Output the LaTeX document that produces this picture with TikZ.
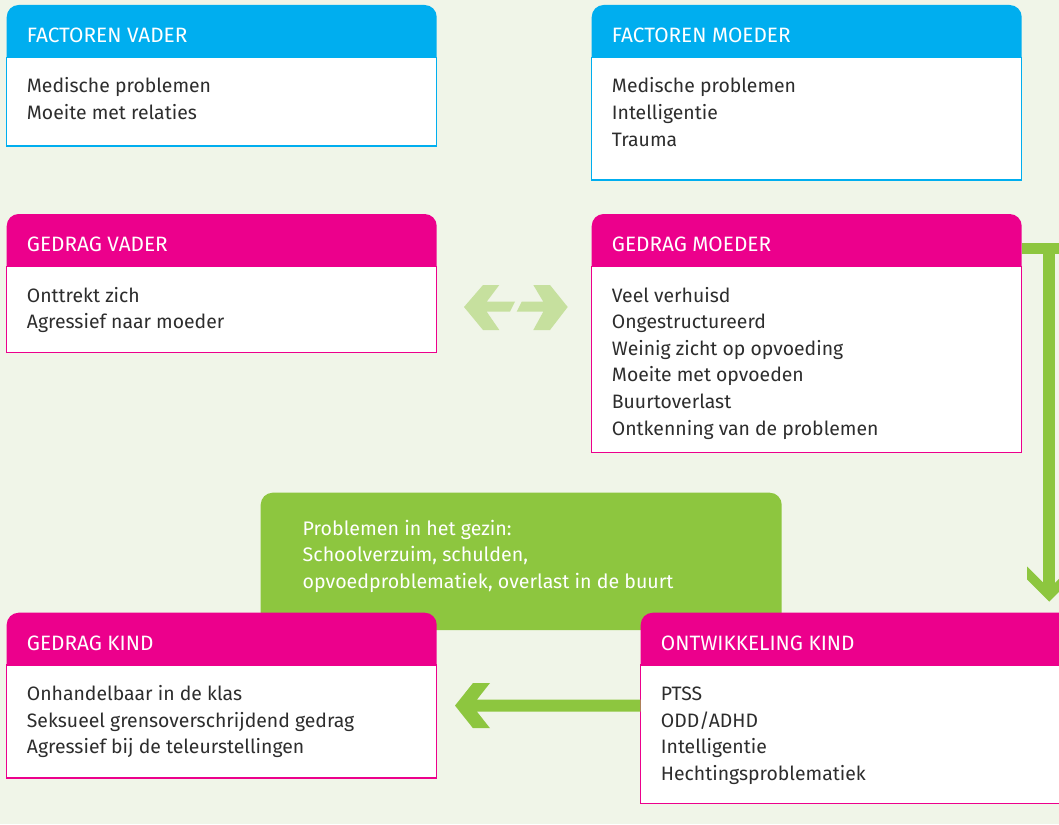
\documentclass[tikz,border=0pt]{standalone}
\usepackage{fontspec}
\setmainfont{Fira Sans}
\definecolor{bg}{RGB}{240,245,232}
\definecolor{cblue}{RGB}{0,174,239}
\definecolor{cmag}{RGB}{236,0,140}
\definecolor{cgreen}{RGB}{141,198,63}
\definecolor{clight}{RGB}{198,224,158}
\definecolor{ctext}{RGB}{45,45,45}
\newcommand\infobox[8]{%
  \pgfmathsetmacro\bh{#6-#4-52.3}%
  \node[hdrshape, fill=#2, minimum width=#5pt, anchor=north west] (#1H) at (#3,#4) {};
  \node[bodyshape, draw=#2, minimum width=#5pt, minimum height=\bh pt, anchor=north west] (#1B) at (#3,#4+52.3) {};
  \node[hdrtext, anchor=base west] (#1T) at (#3+20,#4+37.8) {#7};
  \foreach \bodyline [count=\i] in {#8}
    \node[bodytext, anchor=base west] (#1L\i) at (#3+20,#4+88+\i*26.6-26.6) {\bodyline};
}
\begin{document}
\begin{tikzpicture}[x=1pt,y=-1pt,
  hdrshape/.style={draw=none, rounded corners=12pt, inner sep=0pt, outer sep=0pt, minimum height=64pt},
  bodyshape/.style={fill=white, line width=1.2pt, inner sep=0pt, outer sep=0pt},
  hdrtext/.style={text=white, inner sep=0pt, font=\fontsize{20.8}{24}\selectfont},
  bodytext/.style={text=ctext, inner sep=0pt, font=\fontsize{19.4}{23}\selectfont},
  greentext/.style={text=white, inner sep=0pt, font=\fontsize{19.6}{23}\selectfont},
  arrowfill/.style={fill=cgreen, draw=none},
  lightfill/.style={fill=clight, draw=none}]
\fill[bg] (0,0) rectangle (1059,824);
\useasboundingbox (0,0) rectangle (1059,824);
\clip (0,0) rectangle (1059,824);

% green family problems box
\node[fill=cgreen, rounded corners=12pt, inner sep=0pt, outer sep=0pt, minimum width=521pt, minimum height=137.3pt, anchor=north west] (gz) at (260.7,492.7) {};
\foreach \gl [count=\i] in {Problemen in het gezin:, {Schoolverzuim, schulden,}, {opvoedproblematiek, overlast in de buurt}}
  \node[greentext, anchor=base west] (gzL\i) at (302.5,535+\i*26.8-26.8) {\gl};

\infobox{fv}{cblue}{6.7}{5}{430}{146}{FACTOREN VADER}{Medische problemen, Moeite met relaties}
\infobox{fm}{cblue}{591.7}{5}{430}{180}{FACTOREN MOEDER}{Medische problemen, Intelligentie, Trauma}
\infobox{gv}{cmag}{6.7}{214}{430}{352.7}{GEDRAG VADER}{Onttrekt zich, Agressief naar moeder}
\infobox{gm}{cmag}{591.7}{214}{430}{452.3}{GEDRAG MOEDER}{Veel verhuisd, Ongestructureerd, Weinig zicht op opvoeding, Moeite met opvoeden, Buurtoverlast, Ontkenning van de problemen}
\infobox{gk}{cmag}{6.7}{612.7}{430}{778}{GEDRAG KIND}{Onhandelbaar in de klas, Seksueel grensoverschrijdend gedrag, Agressief bij de teleurstellingen}
\infobox{ok}{cmag}{640.7}{612.7}{440}{803.3}{ONTWIKKELING KIND}{PTSS, ODD/ADHD, Intelligentie, Hechtingsproblematiek}

% double arrow between gedrag vader and gedrag moeder
\coordinate (dl) at (464,307);
\coordinate (dr) at (567.7,307);
\fill[lightfill] (dl) -- (483,285) -- (499.3,285) -- (486.7,301.7) -- (515,301.7) -- (510,311.7) -- (486.7,311.7) -- (499.3,330) -- (483,330) -- cycle;
\fill[lightfill] (dr) -- (550,330) -- (533.3,330) -- (543.3,311.7) -- (516.7,311.7) -- (521.7,301.7) -- (543.3,301.7) -- (533.3,285) -- (550,285) -- cycle;

% arrow from gedrag moeder down to ontwikkeling kind
\coordinate (vtip) at (1049.2,601.7);
\fill[arrowfill] (gmH.east |- 0,242.7) rectangle (1066,254.3);
\fill[arrowfill] (1043.3,242.7) rectangle (1055.1,585);
\fill[arrowfill] (vtip) -- (1027.2,579.7) -- (1027.2,566.7) -- (1043.3,582.8) -- (1055.1,582.8) -- (1071.2,566.7) -- (1071.2,579.7) -- cycle;

% arrow from ontwikkeling kind to gedrag kind
\coordinate (htip) at (455,705.6);
\fill[arrowfill] (htip) -- (473,683) -- (490,683) -- (477,699.5) -- (okB.west |- 0,699.5) -- (okB.west |- 0,711.7) -- (477,711.7) -- (490,728.2) -- (473,728.2) -- cycle;
\end{tikzpicture}
\end{document}
